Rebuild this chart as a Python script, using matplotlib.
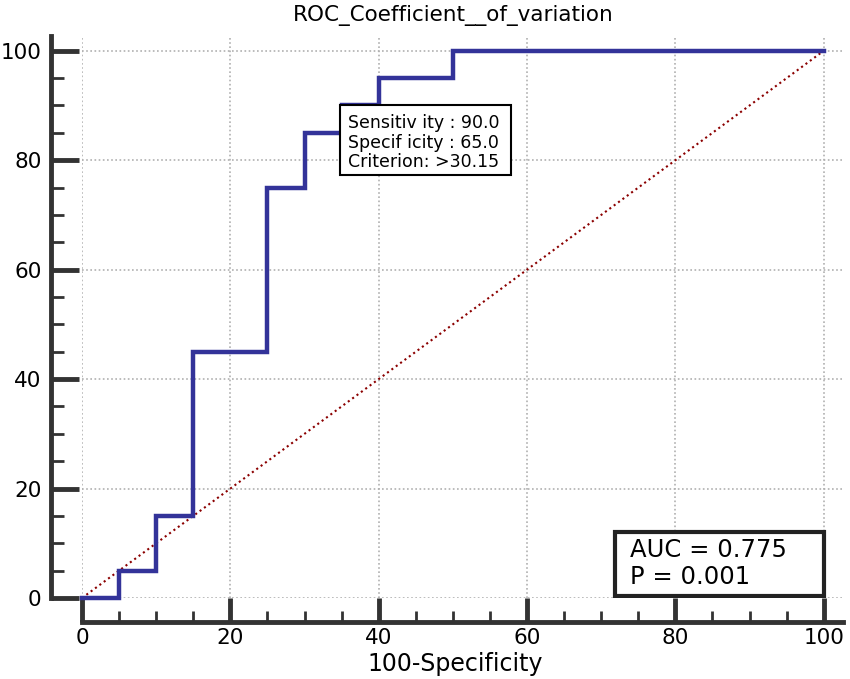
import matplotlib
matplotlib.use("Agg")
import matplotlib.pyplot as plt
from matplotlib.ticker import MultipleLocator
from matplotlib.patches import Rectangle

plt.rcParams['font.family'] = ['DejaVu Sans']

# ROC step curve (100-Specificity, Sensitivity)
fpr = [0, 5, 5, 10, 10, 15, 15, 25, 25, 30, 30, 35, 35, 40, 40, 50, 50, 100]
tpr = [0, 0, 5, 5, 15, 15, 45, 45, 75, 75, 85, 85, 90, 90, 95, 95, 100, 100]
diag = [0, 100]
xticks = [0, 20, 40, 60, 80, 100]
yticks = [0, 20, 40, 60, 80, 100]
title = "ROC_Coefficient__of_variation"
xlabel = "100-Specificity"
crit_point = (35, 90)
crit_lines = ["Sensitiv ity : 90.0", "Specif icity : 65.0", "Criterion: >30.15"]
auc_lines = ["AUC = 0.775", "P = 0.001"]

W, H = 850, 679
fig = plt.figure(figsize=(W / 100, H / 100), dpi=100)
ax = fig.add_axes([82 / W, 1 - 598 / H, (843 - 82) / W, (598 - 36) / H])

ax.set_xlim(0, 102.6)
ax.set_ylim(0, 102.7)

ax.grid(True, which='major', color='#b0b0b0', linestyle=(0, (1, 1.5)), linewidth=1.2)
ax.set_axisbelow(True)

ax.plot(diag, diag, color='#8B0000', linestyle=(0, (1, 1.6)), linewidth=1.5, zorder=2,
        clip_on=False)
ax.plot(fpr, tpr, color='#333399', linewidth=3.2, zorder=3, solid_joinstyle='miter',
        clip_on=False)

for s in ['top', 'right']:
    ax.spines[s].set_visible(False)
ax.spines['left'].set_position(('outward', 22))
ax.spines['bottom'].set_position(('outward', 17))
for s in ['left', 'bottom']:
    ax.spines[s].set_linewidth(3.5)
    ax.spines[s].set_color('#333333')

ax.set_xticks(xticks)
ax.set_yticks(yticks)
ax.xaxis.set_minor_locator(MultipleLocator(5))
ax.yaxis.set_minor_locator(MultipleLocator(5))
ax.tick_params(axis='y', which='major', direction='in', length=20, width=3.5, color='#333333',
               labelsize=15.5, pad=7)
ax.tick_params(axis='y', which='minor', direction='in', length=9, width=2, color='#333333')
ax.tick_params(axis='x', which='major', direction='in', length=17, width=3.5, color='#333333',
               labelsize=15.5, pad=4.5)
ax.tick_params(axis='x', which='minor', direction='in', length=8, width=2, color='#333333')

fig.text(453 / W, 1 - 16 / H, title, fontsize=15.5, ha='center', va='center')
fig.text(455 / W, 1 - 664 / H, xlabel, fontsize=17, ha='center', va='center')

# criterion box (top-left corner at the criterion point)
cx, cy = crit_point
ax.add_patch(Rectangle((cx - 0.2, cy - 12.7), 23.1, 12.7, facecolor='white', edgecolor='black',
                       linewidth=1.5, zorder=5))
for i, line in enumerate(crit_lines):
    ax.text(cx + 0.9, cy - 4.1 - 3.6 * i, line, fontsize=12.5, ha='left', va='baseline', zorder=6)

# AUC box
ax.add_patch(Rectangle((71.8, 0.37), 28.2, 11.7, facecolor='white', edgecolor='#222222',
                       linewidth=3, zorder=5))
ax.text(73.9, 7.5, auc_lines[0], fontsize=17.5, ha='left', va='baseline', zorder=6)
ax.text(73.9, 2.6, auc_lines[1], fontsize=17.5, ha='left', va='baseline', zorder=6)

fig.savefig('out.png', dpi=100)
